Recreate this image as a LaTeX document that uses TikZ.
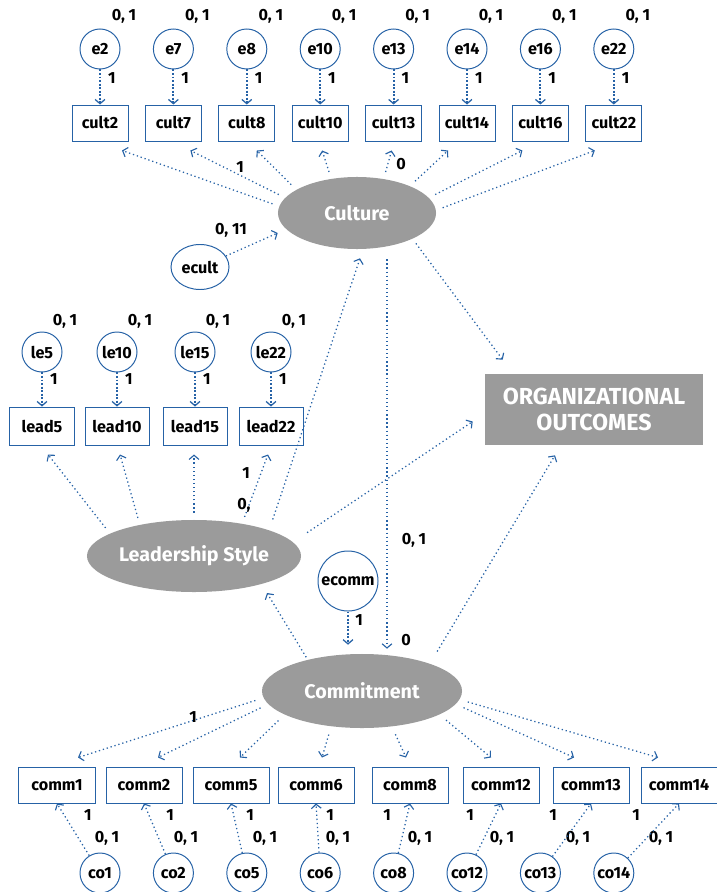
\documentclass[tikz,border=0pt]{standalone}
\usepackage{fontspec}
\setmainfont{Fira Sans}
\usepackage{tikz}
\usetikzlibrary{arrows.meta, shapes.geometric, calc, positioning}

\definecolor{semblue}{RGB}{38,98,166}
\definecolor{semgray}{RGB}{155,155,155}

\tikzset{
  errvar/.style={circle, draw=semblue, line width=0.7pt, fill=white, minimum size=1cm, inner sep=0pt, font=\fontsize{11.5}{13}\selectfont\bfseries},
  errell/.style={ellipse, draw=semblue, line width=0.7pt, fill=white, minimum width=1.45cm, minimum height=1.125cm, inner sep=0pt, font=\fontsize{11.5}{13}\selectfont\bfseries},
  item/.style={rectangle, draw=semblue, line width=0.7pt, fill=white, minimum height=0.9cm, inner sep=1pt, font=\fontsize{11.5}{13}\selectfont\bfseries},
  factor/.style={ellipse, fill=semgray, text=white, inner sep=0pt, font=\fontsize{14}{17}\selectfont\bfseries},
  outcome/.style={rectangle, fill=semgray, text=white, align=center, font=\fontsize{16.5}{18.5}\selectfont\bfseries},
  val/.style={inner sep=0pt, font=\fontsize{11.5}{13}\selectfont\bfseries},
  loading/.style={draw=semblue, line width=0.9pt, dotted, -{Straight Barb[length=3pt,width=7pt,line width=0.8pt]}},
  errpath/.style={draw=semblue, line width=1.4pt, dash pattern=on 1.4pt off 1.1pt, -{Straight Barb[length=3pt,width=7pt,line width=0.9pt]}}
}

\begin{document}
\begin{tikzpicture}[x=0.025cm, y=-0.025cm]
\useasboundingbox (0,0) rectangle (716,892);

% latent factors
\node[factor, minimum width=3.95cm, minimum height=1.8cm] (Culture) at (357,213) {Culture};
\node[factor, minimum width=5.35cm, minimum height=1.8cm] (Lead) at (194,556) {Leadership Style};
\node[factor, minimum width=5cm, minimum height=1.85cm] (Commitment) at (362,691) {Commitment};
\node[outcome, minimum width=5.45cm, minimum height=1.775cm] (OO) at (594,409.5) {ORGANIZATIONAL\\OUTCOMES};

% culture items
\foreach \n/\x in {2/100, 7/173.4, 8/246.8, 10/320.2, 13/393.6, 14/467, 16/540.4, 22/613.8}{
  \node[errvar] (e\n) at (\x,49) {e\n};
  \node[item, minimum width=1.4cm] (cult\n) at (\x,123) {cult\n};
  \node[val] (ve\n) at (\x+24,16) {0, 1};
  \draw[errpath] (e\n) -- node[val, pos=0.25, right=5pt] (we\n) {1} (cult\n);
}
\foreach \n/\a/\dx in {2/175/22, 7/168/17, 8/159/10, 10/127/2, 13/52/-2, 14/27/-19, 16/12/-18, 22/2/-19}
  \draw[loading, shorten <=5pt] (Culture.\a) -- ($(cult\n.south)+(\dx,9)$);
\node[val] (c1) at (240,167) {1};
\node[val] (c0) at (401,164) {0};

\node[errell] (ecult) at (200,267) {ecult};
\node[val] (vecult) at (231,230) {0, 11};
\draw[loading] (ecult.23) -- ($(Culture.west)+(0,20)$);

% leadership items
\foreach \n/\x in {5/42, 10/117, 15/195, 22/271}{
  \node[errvar] (le\n) at (\x,352) {le\n};
  \node[item, minimum width=1.6cm, minimum height=0.95cm] (lead\n) at (\x,426) {lead\n};
  \node[val] (vle\n) at (\x+23,321) {0, 1};
  \draw[errpath] (le\n) -- node[val, pos=0.2, right=5pt] (wle\n) {1} (lead\n);
}
\foreach \n/\a/\dx in {5/165/6, 10/150/3, 15/90/-1, 22/34/-3}
  \draw[loading, shorten <=5pt] (Lead.\a) -- ($(lead\n.south)+(\dx,9)$);
\node[val] (l1) at (246,473) {1};
\node[val] (l0) at (244,505) {0,};

% structural paths
\draw[loading, shorten <=8pt] (Lead.19) -- ($(Culture.south)+(3,9)$);
\draw[loading, shorten <=12pt] (Lead.8) -- ($(OO.west)+(-12,12)$);
\draw[loading, shorten <=4pt] (Culture.-25) -- ($(OO.north west)+(18,-14)$);
\draw[loading, line width=1.2pt] ($(Culture.south)+(30,10)$) -- ($(Commitment.north)+(25,-5)$);
\node[val] (vcc) at (414,540) {0, 1};
\node[val] (vcc0) at (406,640) {0};
\draw[loading, shorten <=2pt] (Commitment.150) -- ($(Lead)+(73,37)$);
\draw[loading, shorten <=10pt] (Commitment.22) -- ($(OO.south)+(-39,10)$);

\node[errvar, minimum size=1.5cm] (ecomm) at (348,581) {ecomm};
\draw[errpath, shorten >=6.4pt] (ecomm.south) -- (ecomm.south |- Commitment.north);
\node[val] (wecomm) at (359,620) {1};

% commitment items
\foreach \n/\x/\bx/\lx/\mx in {1/100/57/88/107, 2/173.4/144/170/186, 5/246.8/231/250/265, 6/320.2/316/330/338, 8/393.6/410/387/420, 12/467/501/470/502, 13/540.4/591/553/578, 14/613.8/679/636/661}{
  \node[item, minimum width=1.9cm] (comm\n) at (\bx,785) {comm\n};
  \node[errvar] (co\n) at (\x,873) {co\n};
  \node[val] (wco\n) at (\lx,815) {1};
  \node[val] (vco\n) at (\mx,838) {0, 1};
  \draw[loading] (co\n) -- (comm\n.south);
}
\foreach \n/\a/\dx in {1/184.5/21, 2/188/14, 5/197/9, 6/229/6, 8/310/-4, 12/343/-10, 13/352/-17, 14/355/-21}
  \draw[loading, shorten <=6pt] (Commitment.\a) -- ($(comm\n.north)+(\dx,-9)$);
\node[val] (wc1) at (193,717) {1};
\end{tikzpicture}
\end{document}
